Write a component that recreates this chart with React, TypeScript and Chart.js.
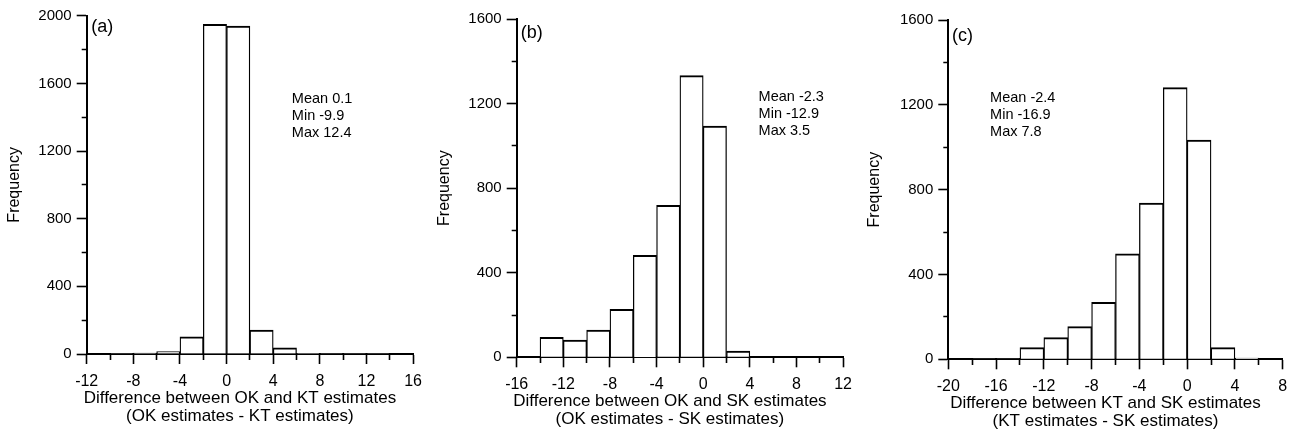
import React, { useEffect, useRef } from "react";
import { Chart, registerables } from "chart.js";
Chart.register(...registerables);

const FONT = "'Liberation Sans', Arial, Helvetica, sans-serif";

// ---- Panel (a) ----
const binStartA = [-12, -10, -8, -6, -4, -2, 0, 2, 4, 6, 8, 10, 12, 14];
const freqA = [0, 1, 5, 15, 102, 1949, 1939, 142, 37, 4, 1, 1, 1, 0];
const statsA = ["Mean 0.1", "Min -9.9", "Max 12.4"];
const xTitleA = ["Difference between OK and KT estimates", "(OK estimates - KT estimates)"];

// ---- Panel (b) ----
const binStartB = [-16, -14, -12, -10, -8, -6, -4, -2, 0, 2, 4, 6, 8, 10];
const freqB = [0, 95, 82, 129, 227, 482, 719, 1332, 1094, 30, 0, 0, 0, 0];
const statsB = ["Mean -2.3", "Min -12.9", "Max 3.5"];
const xTitleB = ["Difference between OK and SK estimates", "(OK estimates - SK estimates)"];

// ---- Panel (c) ----
const binStartC = [-20, -18, -16, -14, -12, -10, -8, -6, -4, -2, 0, 2, 4, 6];
const freqC = [0, 2, 2, 55, 102, 154, 269, 497, 737, 1281, 1034, 55, 6, 0];
const statsC = ["Mean -2.4", "Min -16.9", "Max 7.8"];
const xTitleC = ["Difference between KT and SK estimates", "(KT estimates - SK estimates)"];

const binWidth = 2;

type Panel = {
  tag: string;
  starts: number[];
  freq: number[];
  stats: string[];
  xTitle: string[];
  xMin: number;
  xMax: number;
  yMax: number;
  statAt: [number, number];
  tagAt: [number, number];
  pageLeft: number;
  width: number;
  area: { left: number; top: number; right: number; bottom: number };
};

const panels: Panel[] = [
  {
    tag: "(a)", starts: binStartA, freq: freqA, stats: statsA, xTitle: xTitleA,
    xMin: -12, xMax: 16, yMax: 2000, statAt: [5.6, 1507], tagAt: [-11.6, 1935],
    pageLeft: 0, width: 430, area: { left: 86.7, top: 15.7, right: 419, bottom: 354 },
  },
  {
    tag: "(b)", starts: binStartB, freq: freqB, stats: statsB, xTitle: xTitleB,
    xMin: -16, xMax: 12, yMax: 1600, statAt: [4.75, 1231], tagAt: [-15.66, 1534],
    pageLeft: 430, width: 430, area: { left: 86.7, top: 19, right: 419, bottom: 357.3 },
  },
  {
    tag: "(c)", starts: binStartC, freq: freqC, stats: statsC, xTitle: xTitleC,
    xMin: -20, xMax: 8, yMax: 1600, statAt: [-16.5, 1232], tagAt: [-19.7, 1524],
    pageLeft: 860, width: 438, area: { left: 88.3, top: 20, right: 422.7, bottom: 359.3 },
  },
];

const H = 435;
const TL = 10; // major tick length
const MINOR = 5; // minor tick length

function HistPanel({ p }: { p: Panel }) {
  const ref = useRef<HTMLCanvasElement | null>(null);
  useEffect(() => {
    if (!ref.current) return;
    const annot = {
      id: "annot",
      afterDraw(chart: any) {
        const ctx = chart.ctx;
        const xs = chart.scales.x;
        const ys = chart.scales.y;
        const ca = chart.chartArea;
        ctx.save();
        ctx.fillStyle = "#000";
        ctx.textAlign = "left";
        ctx.textBaseline = "middle";
        ctx.font = `18px ${FONT}`;
        ctx.fillText(p.tag, xs.getPixelForValue(p.tagAt[0]), ys.getPixelForValue(p.tagAt[1]));
        ctx.font = `14.5px ${FONT}`;
        const sx = xs.getPixelForValue(p.statAt[0]);
        const sy = ys.getPixelForValue(p.statAt[1]);
        p.stats.forEach((s, i) => ctx.fillText(s, sx, sy + i * 17));
        ctx.textAlign = "center";
        ctx.font = `17px ${FONT}`;
        const cx = (ca.left + ca.right) / 2 - 10;
        ctx.fillText(p.xTitle[0], cx, ca.bottom + 44.5);
        ctx.fillText(p.xTitle[1], cx, ca.bottom + 62.5);
        ctx.restore();
      },
    };
    const chart = new Chart(ref.current, {
      type: "bar",
      data: {
        datasets: [
          {
            data: p.starts.map((s, i) => ({ x: s + binWidth / 2, y: p.freq[i] === 0 ? null : p.freq[i] })),
            backgroundColor: "#ffffff",
            borderColor: "#000000",
            borderWidth: { top: 2, left: 1.3, right: 1.3, bottom: 0 },
            borderSkipped: "start",
            barPercentage: 1,
            categoryPercentage: 1,
          },
        ],
      },
      options: {
        responsive: false,
        animation: false,
        events: [],
        layout: {
          padding: { left: 0, top: p.area.top, right: p.width - p.area.right, bottom: 0 },
        },
        plugins: { legend: { display: false }, tooltip: { enabled: false }, title: { display: false } },
        scales: {
          x: {
            type: "linear",
            min: p.xMin,
            max: p.xMax,
            offset: false,
            afterFit: (s: any) => { s.height = H - p.area.bottom; },
            border: { display: true, color: "#000", width: 2 },
            grid: {
              offset: false,
              drawOnChartArea: false,
              drawTicks: true,
              tickLength: TL,
              tickColor: "#000",
              tickWidth: 1.6,
              tickBorderDash: (ctx: any) =>
                ctx.tick && Math.round(ctx.tick.value) % 4 !== 0 ? [MINOR, 100] : [],
            },
            ticks: {
              stepSize: 2,
              autoSkip: false,
              maxRotation: 0,
              padding: 8,
              color: "#000",
              font: { family: FONT, size: 16 },
              callback: (v: any) => (Math.round(Number(v)) % 4 === 0 ? String(v) : ""),
            },
          },
          y: {
            min: 0,
            max: p.yMax,
            afterFit: (s: any) => { s.width = p.area.left; },
            border: { display: true, color: "#000", width: 2 },
            grid: {
              drawOnChartArea: false,
              drawTicks: true,
              tickLength: TL,
              tickColor: "#000",
              tickWidth: 1.6,
              tickBorderDash: (ctx: any) =>
                ctx.tick && Math.round(ctx.tick.value) % 400 !== 0 ? [0, TL - MINOR, MINOR, 100] : [],
            },
            ticks: {
              stepSize: 200,
              autoSkip: false,
              padding: 5,
              color: "#000",
              font: { family: FONT, size: 15 },
              callback: (v: any) => (Math.round(Number(v)) % 400 === 0 ? String(v) : ""),
            },
            title: {
              display: true,
              text: "Frequency",
              color: "#000",
              font: { family: FONT, size: 16 },
              padding: { top: 5.4, bottom: 0 },
            },
          },
        },
      } as any,
      plugins: [annot],
    });
    return () => chart.destroy();
  }, [p]);
  return (
    <div style={{ position: "absolute", left: p.pageLeft, top: 0, width: p.width, height: H }}>
      <canvas ref={ref} width={p.width} height={H} style={{ display: "block" }} />
    </div>
  );
}

export default function App() {
  return (
    <div style={{ position: "absolute", left: 0, top: 0, width: 1298, height: H, background: "#fff" }}>
      {panels.map((p) => (
        <HistPanel key={p.tag} p={p} />
      ))}
    </div>
  );
}
